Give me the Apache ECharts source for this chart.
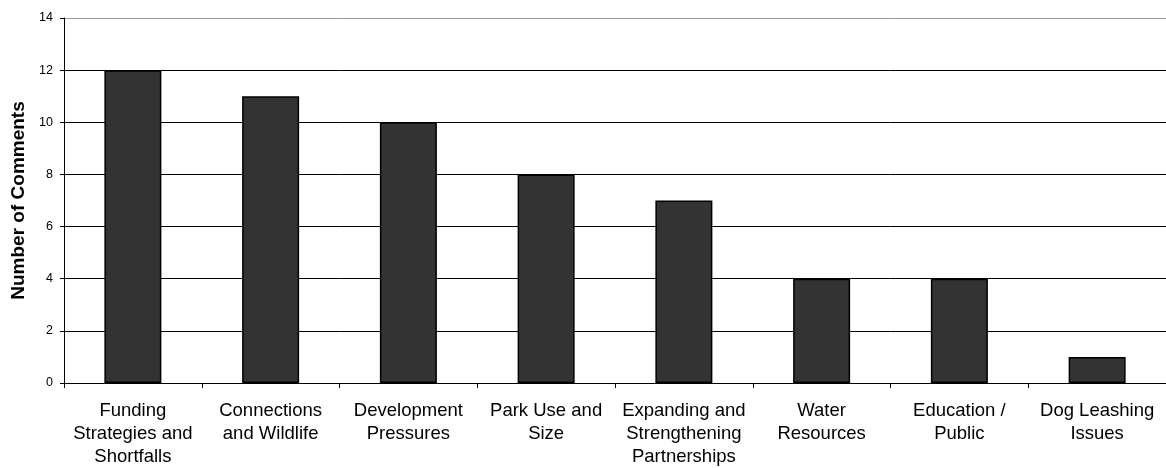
<!DOCTYPE html>
<html>
<head>
<meta charset="utf-8">
<script src="https://cdn.jsdelivr.net/npm/echarts@6/dist/echarts.min.js"></script>
<style>
html,body{margin:0;padding:0;background:#fff;}
#chart{width:1166px;height:468px;}
</style>
</head>
<body>
<div id="chart"></div>
<script>
const categories = [
  "Funding\nStrategies and\nShortfalls",
  "Connections\nand Wildlife",
  "Development\nPressures",
  "Park Use and\nSize",
  "Expanding and\nStrengthening\nPartnerships",
  "Water\nResources",
  "Education /\nPublic",
  "Dog Leashing\nIssues"
];
const comments = [12, 11, 10, 8, 7, 4, 4, 1];
const yTicks = { min: 0, max: 14, interval: 2 };

const chart = echarts.init(document.getElementById('chart'));
chart.setOption({
  animation: false,
  grid: { left: 64, right: -3, top: 18, bottom: 85, containLabel: false },
  xAxis: {
    type: 'category',
    data: categories,
    axisLine: { lineStyle: { color: '#000', width: 1 } },
    axisTick: { show: true, length: 5, lineStyle: { color: '#000' } },
    axisLabel: {
      color: '#000', fontSize: 18.5, lineHeight: 23, margin: 16,
      fontFamily: 'Liberation Sans, Arial, sans-serif', interval: 0
    }
  },
  yAxis: {
    type: 'value',
    min: yTicks.min, max: yTicks.max, interval: yTicks.interval,
    name: 'Number of Comments',
    nameLocation: 'middle',
    nameGap: 35,
    nameTextStyle: { color: '#000', fontSize: 19, fontWeight: 'bold', fontFamily: 'Liberation Sans, Arial, sans-serif' },
    axisLine: { show: true, lineStyle: { color: '#000', width: 1 } },
    axisTick: { show: true, length: 4, lineStyle: { color: '#000' } },
    axisLabel: { color: '#000', fontSize: 12.5, margin: 11, fontFamily: 'Liberation Sans, Arial, sans-serif' },
    splitLine: { show: true, lineStyle: { color: ['#000','#000','#000','#000','#000','#000','#000','#999'], width: 1 } }
  },
  series: [{
    type: 'bar',
    data: comments,
    barWidth: 57,
    itemStyle: { color: '#333333', borderColor: '#000', borderWidth: 1.5 }
  }]
});
</script>
</body>
</html>
